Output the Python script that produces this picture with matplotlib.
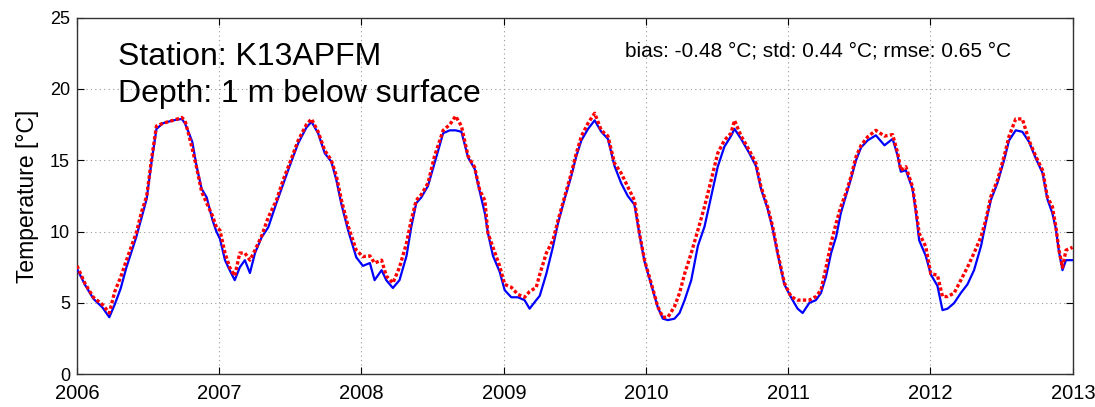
import numpy as np
import matplotlib
matplotlib.use("Agg")
import matplotlib.pyplot as plt
import matplotlib.dates as mdates

plt.rcParams['font.family'] = ['Liberation Sans', 'DejaVu Sans']

# Day offsets since 2006-01-01
days = [0, 20, 42, 65, 83, 97, 112, 127, 140, 152, 166, 179, 191, 204, 221, 247, 269, 277, 286, 296,
        307, 320, 333, 348, 358,
        367, 380, 392, 405, 418, 431, 444, 457, 474, 491, 512, 529, 546, 568, 589, 602, 619, 636, 653,
        666, 679, 696, 717,
        734, 752, 764, 782, 794, 811, 828, 846, 858, 871, 884, 901, 918, 940, 957, 972, 987, 1004,
        1021, 1034, 1047, 1055, 1068, 1085,
        1098, 1115, 1132, 1149, 1162, 1179, 1188, 1205, 1222, 1235, 1252, 1269, 1282, 1295, 1312,
        1329, 1346, 1363, 1380, 1397, 1414, 1431, 1444, 1457,
        1474, 1491, 1504, 1517, 1534, 1547, 1560, 1577, 1594, 1611, 1628, 1645, 1662, 1679, 1688,
        1705, 1726, 1743, 1756, 1773, 1786, 1799, 1816,
        1833, 1850, 1863, 1880, 1897, 1910, 1923, 1936, 1949, 1961, 1974, 1987, 2000, 2013, 2030,
        2051, 2073, 2094, 2107, 2115, 2128, 2145, 2154, 2162, 2179,
        2192, 2209, 2222, 2235, 2252, 2269, 2286, 2303, 2321, 2333, 2346, 2363, 2380, 2393, 2410,
        2427, 2444, 2462, 2479, 2491, 2504, 2513, 2521, 2530, 2539, 2556]

# Observations (red)
obs = [7.6, 6.4, 5.4, 4.9, 4.3, 5.8, 6.8, 8.0, 9.0, 9.9, 11.4, 12.5, 15.0, 17.4, 17.6, 17.8, 18.0, 17.8, 16.9, 15.8,
       14.5, 12.8, 12.0, 11.1, 10.3,
       10.1, 8.5, 7.5, 6.9, 8.5, 8.5, 8.0, 8.7, 9.7, 11.0, 12.2, 13.6, 14.8, 16.4, 17.5, 17.9, 17.0, 15.7, 15.0,
       13.9, 12.2, 10.4, 8.7,
       8.25, 8.3, 7.8, 8.0, 6.9, 6.4, 7.5, 9.2, 10.8, 12.2, 12.6, 13.4, 15.3, 17.1, 17.5, 18.1, 17.4, 15.3,
       14.5, 12.9, 12.2, 9.9, 8.9, 7.6,
       6.3, 6.1, 5.6, 5.4, 5.8, 6.1, 7.0, 8.5, 9.4, 10.8, 12.45, 14.1, 15.5, 16.7, 17.6,
       18.3, 17.1, 16.7, 14.8, 14.1, 13.15, 12.2, 9.9, 8.0,
       6.4, 4.75, 4.0, 4.0, 4.75, 5.7, 7.05, 8.5, 10.1, 11.75, 13.6, 15.5, 16.4, 16.9, 17.8,
       16.7, 15.7, 14.8, 13.15, 11.75, 10.35, 8.5, 6.4,
       5.45, 5.2, 5.2, 5.2, 5.45, 5.9, 7.5, 9.2, 10.6, 11.75, 12.7, 13.85, 15.25, 16.05, 16.65,
       17.1, 16.7, 16.8, 15.5, 14.3, 14.55, 13.15, 11.5, 9.9, 8.95,
       7.05, 6.95, 5.45, 5.45, 5.7, 6.6, 7.5, 8.5, 9.65, 10.8, 12.45, 13.6, 15.25, 16.7, 17.9,
       17.9, 16.4, 15.25, 14.3, 12.45, 11.75, 10.35, 8.7, 7.5, 8.7, 8.9]

# Model (blue)
model = [7.4, 6.3, 5.3, 4.7, 4.0, 4.9, 6.0, 7.5, 8.6, 9.6, 11.0, 12.3, 14.8, 17.2, 17.6, 17.8, 17.9, 17.6, 17.0, 16.3,
         14.6, 13.0, 12.4, 10.8, 10.0,
         9.5, 8.0, 7.3, 6.6, 7.5, 8.0, 7.1, 8.5, 9.6, 10.3, 12.0, 13.3, 14.6, 16.2, 17.3, 17.7, 16.9, 15.5, 14.9,
         13.6, 11.9, 10.1, 8.2,
         7.6, 7.8, 6.6, 7.3, 6.6, 6.05, 6.6, 8.3, 10.3, 12.0, 12.4, 13.2, 14.8, 16.9, 17.1, 17.1, 17.0, 15.2,
         14.4, 12.8, 11.3, 9.9, 8.3, 7.2,
         5.9, 5.4, 5.4, 5.2, 4.6, 5.2, 5.5, 7.05, 8.95, 10.6, 12.3, 13.9, 15.3, 16.4, 17.2,
         17.8, 17.0, 16.5, 14.6, 13.4, 12.5, 11.9, 9.8, 7.9,
         6.3, 4.7, 3.9, 3.8, 3.9, 4.3, 5.2, 6.6, 9.0, 10.35, 12.45, 14.55, 15.95, 16.7, 17.2,
         16.5, 15.5, 14.6, 13.0, 11.6, 10.2, 8.4, 6.3,
         5.4, 4.6, 4.3, 5.0, 5.2, 5.7, 6.85, 8.5, 9.65, 11.3, 12.5, 13.7, 15.0, 15.9, 16.4,
         16.75, 16.05, 16.5, 15.3, 14.2, 14.3, 13.0, 11.3, 9.4, 8.3,
         7.0, 6.2, 4.5, 4.6, 5.0, 5.7, 6.3, 7.3, 9.0, 10.6, 12.2, 13.4, 15.0, 16.4, 17.1,
         17.0, 16.3, 15.1, 14.1, 12.3, 11.3, 10.2, 8.6, 7.3, 8.0, 8.0]

yticks = [0, 5, 10, 15, 20, 25]
station_text = "Station: K13APFM"
depth_text = "Depth: 1 m below surface"
stats_text = "bias: -0.48 \u00b0C; std: 0.44 \u00b0C; rmse: 0.65 \u00b0C"

t = np.datetime64('2006-01-01') + np.array(days, dtype='timedelta64[D]')

fig = plt.figure(figsize=(10.95, 4.07), dpi=100)
ax = fig.add_axes([0.0703, 0.0803, 0.9096, 0.8764])

ax.plot(t, model, color='blue', lw=1.6, zorder=3)
ax.plot(t, obs, color='red', lw=2.4, linestyle=(0, (1, 0.7)), zorder=4)

ax.set_xlim(np.datetime64('2006-01-01'), np.datetime64('2013-01-01'))
ax.set_ylim(0, 25)
ax.set_yticks(yticks)
ax.xaxis.set_major_locator(mdates.YearLocator())
ax.xaxis.set_major_formatter(mdates.DateFormatter('%Y'))

ax.grid(True, linestyle=(0, (1, 3)), color='#999999', lw=0.8)
ax.tick_params(direction='in', top=True, right=True, length=5)
ax.tick_params(axis='x', labelsize=14.5, pad=7)
ax.tick_params(axis='y', labelsize=13, pad=5)
for s in ax.spines.values():
    s.set_linewidth(1.0)
    s.set_color('#333333')

ax.set_ylabel("Temperature [\u00b0C]", fontsize=16.5, labelpad=8)

ax.text(0.041, 0.867, station_text, transform=ax.transAxes, fontsize=23, va='baseline', ha='left')
ax.text(0.041, 0.763, depth_text, transform=ax.transAxes, fontsize=23, va='baseline', ha='left')
ax.text(0.550, 0.890, stats_text, transform=ax.transAxes, fontsize=15, va='baseline', ha='left')

fig.savefig('out.png', dpi=100)
